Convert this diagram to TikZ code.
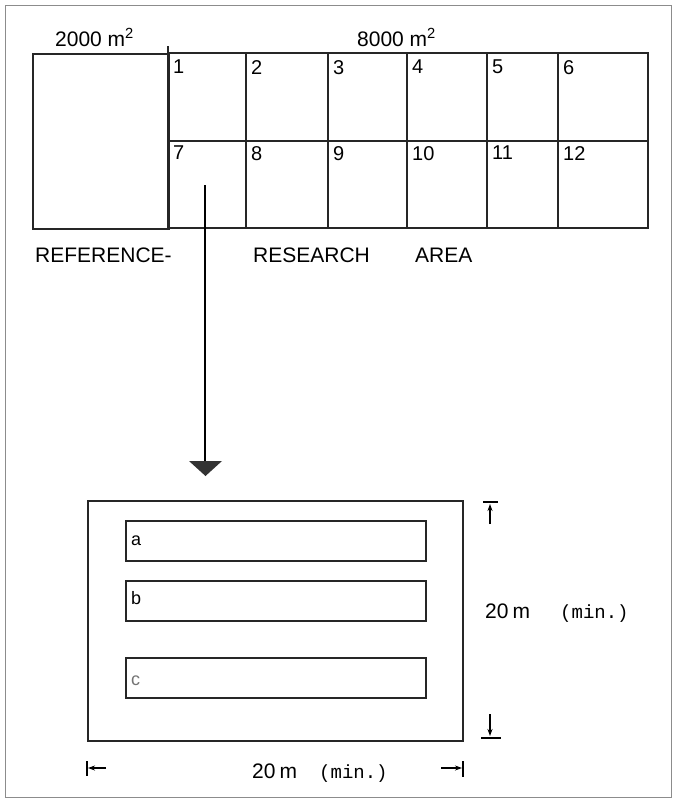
\documentclass[tikz,border=0pt]{standalone}
\usepackage{fontspec}
\usetikzlibrary{arrows.meta}
\setmainfont{Liberation Sans}
\newfontfamily\monof{Liberation Mono}
\begin{document}
\begin{tikzpicture}[x=1pt,y=-1pt,
  ln/.style={line width=1.5pt,draw=black!85},
  lbl/.style={inner sep=0pt,anchor=north west,font=\fontsize{20}{20}\selectfont},
  captxt/.style={inner sep=0pt,anchor=base west,font=\fontsize{21}{21}\selectfont},
  mono/.style={inner sep=0pt,anchor=base west,font=\monof\fontsize{19}{19}\selectfont},
  dim/.style={line width=1.1pt,-{Stealth[length=7pt,width=5pt]}}]
\useasboundingbox (0,0) rectangle (676,803);
\draw[line width=1pt,draw=black!45] (5,5) rectangle (671,797);
% labels above
\node[captxt] (t1) at (55,46) {2000 m\textsuperscript{2}};
\node[captxt] (t2) at (357,46) {8000 m\textsuperscript{2}};
% reference plot
\node[ln,draw,rectangle,minimum width=136pt,minimum height=175pt,inner sep=0pt,anchor=north west] (ref) at (32,53) {};
\draw[ln] (168,46) -- (168,228);
% research plots
\foreach \i/\xa/\xb in {1/168/246,2/246/328,3/328/407,4/407/487,5/487/558,6/558/648}{
  \draw[ln] (\xa,53) rectangle (\xb,141);
  \node[lbl] (n\i) at (\xa+5,60) {\i};
}
\foreach \i/\xa/\xb in {7/168/246,8/246/328,9/328/407,10/407/487,11/487/558,12/558/648}{
  \draw[ln] (\xa,141) rectangle (\xb,228);
  \node[lbl] (n\i) at (\xa+5,146) {\i};
}
\node[captxt] (r1) at (35,262) {REFERENCE-};
\node[captxt] (r2) at (253,262) {RESEARCH};
\node[captxt] (r3) at (415,262) {AREA};
% connector
\coordinate (c7) at (205,185);
\coordinate (tip) at (205,463);
\draw[line width=1.3pt] (c7) -- (tip);
\fill[black!80] (189,461) -- (222,461) -- (205.5,476) -- cycle;
% subplot
\node[ln,draw,rectangle,minimum width=375pt,minimum height=240pt,inner sep=0pt,anchor=north west] (plot) at (87,500) {};
\node[ln,draw,rectangle,minimum width=300pt,minimum height=40pt,inner sep=0pt,anchor=north west] (sa) at (125,520) {};
\node[ln,draw,rectangle,minimum width=300pt,minimum height=40pt,inner sep=0pt,anchor=north west] (sb) at (125,580) {};
\node[ln,draw,rectangle,minimum width=300pt,minimum height=40pt,inner sep=0pt,anchor=north west] (sc) at (125,657) {};
\node[lbl,font=\fontsize{18}{18}\selectfont] (la) at ([xshift=6pt,yshift=-16pt]sa.north west) {a};
\node[lbl,font=\fontsize{18}{18}\selectfont] (lb) at ([xshift=6pt,yshift=-11pt]sb.north west) {b};
\node[lbl,font=\fontsize{18}{18}\selectfont,text=black!55] (lc) at ([xshift=6pt,yshift=-19pt]sc.north west) {c};
% vertical dimension
\draw[line width=1.1pt] (483,502) -- (498,502);
\coordinate (v1) at (490,524);
\coordinate (v2) at (490,504);
\draw[dim] (v1) -- (v2);
\coordinate (v3) at (490,714);
\coordinate (v4) at (490,736);
\draw[dim] (v3) -- (v4);
\draw[line width=1.1pt] (481,738) -- (501,738);
\node[captxt] (d1) at (485,618) {20\hspace{4pt}m};
\node[mono] (d1m) at (560,618) {(min.)};
% horizontal dimension
\draw[line width=1.1pt] (87,761) -- (87,776);
\coordinate (h1) at (106,768);
\coordinate (h2) at (88,768);
\draw[dim] (h1) -- (h2);
\draw[line width=1.4pt] (463,761) -- (463,777);
\coordinate (h3) at (441,768);
\coordinate (h4) at (462,768);
\draw[dim] (h3) -- (h4);
\node[captxt] (d2) at (252,778) {20\hspace{4pt}m};
\node[mono] (d2m) at (319,778) {(min.)};
\end{tikzpicture}
\end{document}
